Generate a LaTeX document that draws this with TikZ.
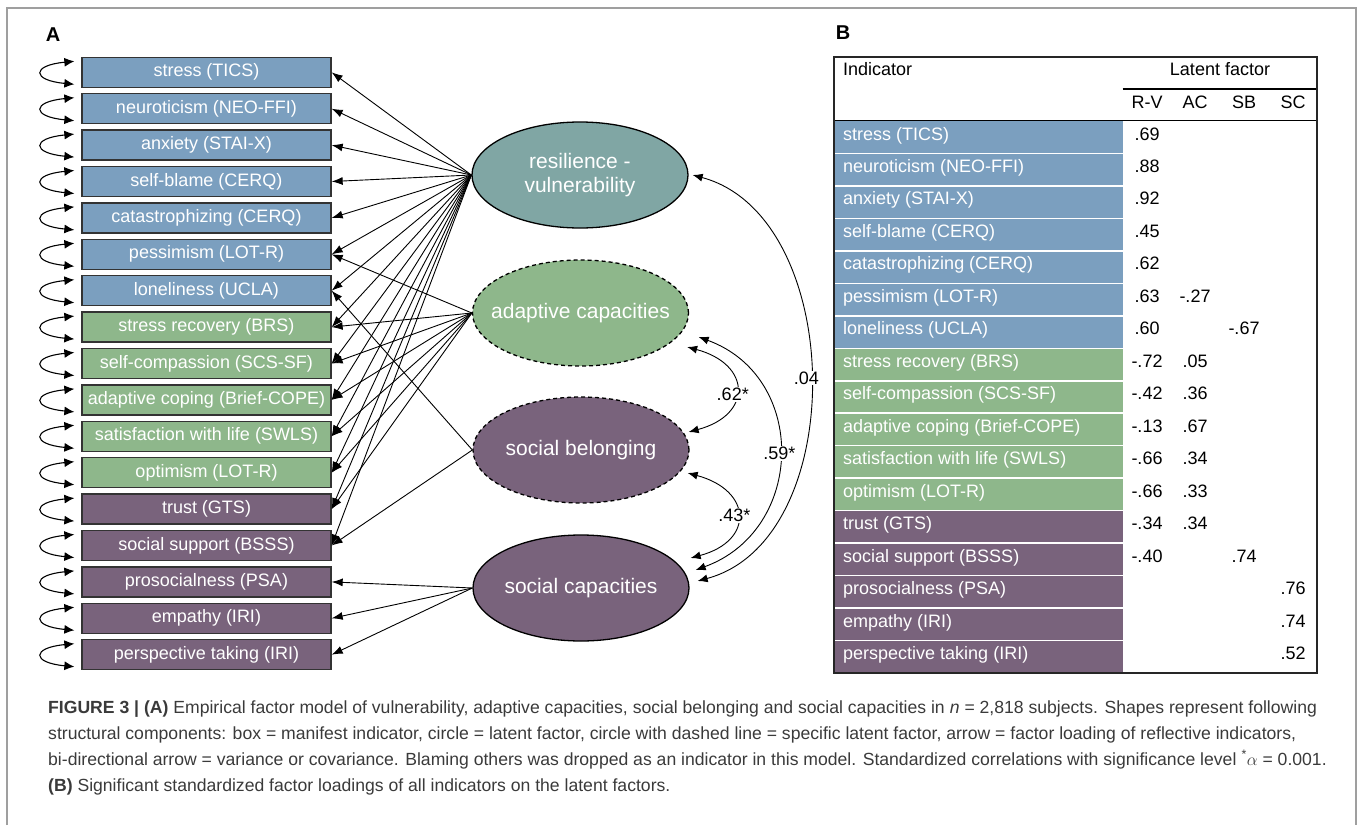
\documentclass[tikz,border=0pt]{standalone}
\usepackage{fontspec}
\setmainfont{Liberation Sans}
\usetikzlibrary{arrows.meta,shapes.geometric}

\definecolor{rvblue}{HTML}{7B9FBF}
\definecolor{acgreen}{HTML}{8EB78B}
\definecolor{scpurple}{HTML}{79637C}
\definecolor{rvteal}{HTML}{80A6A4}
\definecolor{capgray}{HTML}{3A3A3A}

\begin{document}
\begin{tikzpicture}[x=1pt,y=1pt,
  panel/.style={font=\bfseries\fontsize{20}{22}\selectfont, inner sep=0pt},
  indicator/.style={draw=black!80, line width=1.3pt, minimum width=249pt, minimum height=30pt, inner sep=0pt, text=white, font=\fontsize{18}{20}\selectfont},
  factor/.style={ellipse, draw=black, line width=1.3pt, minimum width=216pt, minimum height=106pt, inner sep=0pt, text=white, align=center, font=\fontsize{21}{24}\selectfont},
  specific/.style={factor, dash pattern=on 4pt off 3pt},
  loading/.style={-{Latex[length=11pt,width=8pt]}, line width=0.9pt},
  variance/.style={{Latex[length=10pt,width=9pt]}-{Latex[length=10pt,width=9pt]}, line width=1.1pt},
  covar/.style={{Latex[length=10pt,width=8pt]}-{Latex[length=10pt,width=8pt]}, line width=0.9pt},
  coef/.style={fill=white, inner sep=1pt, font=\fontsize{18}{20}\selectfont},
  rowlabel/.style={anchor=base west, inner sep=0pt, text=white, font=\fontsize{18}{20}\selectfont},
  cell/.style={anchor=base, inner sep=0pt, font=\fontsize{18}{20}\selectfont},
  caption/.style={anchor=base west, inner sep=0pt, text=capgray, font=\fontsize{17.6}{20}\selectfont}
]
\useasboundingbox (0,0) rectangle (1358,-825);
%frame
\draw[gray!75, line width=1.5pt] (7,-825) -- (7,-8) -- (1356,-8) -- (1356,-825);
\node[panel] (panelA) at (53,-34.5) {A};
\node[panel] (panelB) at (843,-33) {B};

%indicators
\node[indicator, fill=rvblue] (stress) at (206.5,-72.3) {stress (TICS)};
\node[indicator, fill=rvblue] (neuro) at (206.5,-108.7) {neuroticism (NEO-FFI)};
\node[indicator, fill=rvblue] (anxiety) at (206.5,-145.1) {anxiety (STAI-X)};
\node[indicator, fill=rvblue] (blame) at (206.5,-181.5) {self-blame (CERQ)};
\node[indicator, fill=rvblue] (catas) at (206.5,-217.9) {catastrophizing (CERQ)};
\node[indicator, fill=rvblue] (pessim) at (206.5,-254.3) {pessimism (LOT-R)};
\node[indicator, fill=rvblue] (lonely) at (206.5,-290.7) {loneliness (UCLA)};
\node[indicator, fill=acgreen] (recov) at (206.5,-327.1) {stress recovery (BRS)};
\node[indicator, fill=acgreen] (compass) at (206.5,-363.5) {self-compassion (SCS-SF)};
\node[indicator, fill=acgreen] (coping) at (206.5,-399.9) {adaptive coping (Brief-COPE)};
\node[indicator, fill=acgreen] (satis) at (206.5,-436.3) {satisfaction with life (SWLS)};
\node[indicator, fill=acgreen] (optim) at (206.5,-472.7) {optimism (LOT-R)};
\node[indicator, fill=scpurple] (trust) at (206.5,-509.1) {trust (GTS)};
\node[indicator, fill=scpurple] (support) at (206.5,-545.5) {social support (BSSS)};
\node[indicator, fill=scpurple] (prosoc) at (206.5,-581.9) {prosocialness (PSA)};
\node[indicator, fill=scpurple] (empathy) at (206.5,-618.3) {empathy (IRI)};
\node[indicator, fill=scpurple] (persp) at (206.5,-654.7) {perspective taking (IRI)};

%latent factors
\node[factor, fill=rvteal] (rv) at (580,-175) {\makebox[0pt]{resilience -}\\\makebox[0pt]{vulnerability}};
\node[specific, fill=acgreen] (ac) at (580.5,-313) {\makebox[0pt]{adaptive capacities}};
\node[specific, fill=scpurple] (sb) at (581,-450) {\makebox[0pt]{social belonging}};
\node[factor, fill=scpurple] (sc) at (581,-588) {\makebox[0pt]{social capacities}};

%variances
\foreach \b in {stress,neuro,anxiety,blame,catas,pessim,lonely,recov,compass,coping,satis,optim,trust,support,prosoc,empathy,persp}
  \draw[variance] ([shift={(-7,11)}]\b.west) .. controls +(-43,-4) and +(-43,4) .. ([shift={(-7,-12)}]\b.west);

%loadings
\foreach \b in {stress,neuro,anxiety,blame,catas,pessim,lonely,recov,compass,coping,satis,optim,trust,support}
  \draw[loading] (rv.west) -- (\b.east);
\foreach \b in {pessim,recov,compass,coping,satis,optim,trust}
  \draw[loading] (ac.west) -- (\b.east);
\foreach \b in {lonely,support}
  \draw[loading] (sb.west) -- (\b.east);
\foreach \b in {prosoc,empathy,persp}
  \draw[loading] (sc.west) -- (\b.east);

%covariances
\draw[covar] ([shift={(-2,-34)}]ac.east) to[out=-15,in=15,looseness=2] node[coef,pos=0.55,xshift=-3pt] (c62) {.62*} ([shift={(-1,18)}]sb.east);
\draw[covar] ([shift={(-2,-23)}]sb.east) to[out=-15,in=15,looseness=2] node[coef,pos=0.5,xshift=-3pt] (c43) {.43*} ([shift={(1,30)}]sc.east);
\draw[covar] ([shift={(9.5,-24)}]ac.east) to[out=-20,in=20,looseness=1.28] node[coef,pos=0.5] (c59) {.59*} ([shift={(6,18)}]sc.east);
\draw[covar] ([shift={(4,0)}]rv.east) to[out=-15,in=15,looseness=1] node[coef,pos=0.5,xshift=-4pt] (c04) {.04} ([shift={(8,7)}]sc.east);

%table
\foreach \i/\col/\lab/\rv/\ac/\sb/\sc in {
  0/rvblue/stress (TICS)/.69/{}/{}/{},
  1/rvblue/neuroticism (NEO-FFI)/.88/{}/{}/{},
  2/rvblue/anxiety (STAI-X)/.92/{}/{}/{},
  3/rvblue/self-blame (CERQ)/.45/{}/{}/{},
  4/rvblue/catastrophizing (CERQ)/.62/{}/{}/{},
  5/rvblue/pessimism (LOT-R)/.63/-.27/{}/{},
  6/rvblue/loneliness (UCLA)/.60/{}/-.67/{},
  7/acgreen/stress recovery (BRS)/-.72/.05/{}/{},
  8/acgreen/self-compassion (SCS-SF)/-.42/.36/{}/{},
  9/acgreen/adaptive coping (Brief-COPE)/-.13/.67/{}/{},
  10/acgreen/satisfaction with life (SWLS)/-.66/.34/{}/{},
  11/acgreen/optimism (LOT-R)/-.66/.33/{}/{},
  12/scpurple/trust (GTS)/-.34/.34/{}/{},
  13/scpurple/social support (BSSS)/-.40/{}/.74/{},
  14/scpurple/prosocialness (PSA)/{}/{}/{}/.76,
  15/scpurple/empathy (IRI)/{}/{}/{}/.74,
  16/scpurple/perspective taking (IRI)/{}/{}/{}/.52}{
  \fill[\col] (834,{-121-32.47*\i}) rectangle (1122.7,{-121-32.47*(\i+1)});
  \node[rowlabel] (lab\i) at (843,{-140-32.47*\i}) {\lab};
  \node[cell] (nrv\i) at (1147,{-140-32.47*\i}) {\rv};
  \node[cell] (nac\i) at (1195,{-140-32.47*\i}) {\ac};
  \node[cell] (nsb\i) at (1244,{-140-32.47*\i}) {\sb};
  \node[cell] (nsc\i) at (1293,{-140-32.47*\i}) {\sc};
}
\foreach \i in {1,...,16}
  \draw[white, line width=1.5pt] (834,{-121-32.47*\i}) -- (1122.7,{-121-32.47*\i});
\node[cell, anchor=base west] (indhead) at (843,-75.7) {Indicator};
\node[cell] (lathead) at (1220,-75.7) {Latent factor};
\node[cell] (hrv) at (1147,-108) {R-V};
\node[cell] (hac) at (1195,-108) {AC};
\node[cell] (hsb) at (1244,-108) {SB};
\node[cell] (hsc) at (1293,-108) {SC};
\draw[line width=1.2pt] (1122.7,-89) -- (1317,-89);
\draw[line width=1.5pt] (834,-120.7) -- (1317,-120.7);
\draw[line width=1.5pt, black!85] (834,-57) rectangle (1317,-673);

%caption
\node[caption] (cap1) at (48,-713) {\textbf{FIGURE 3 | (A)} Empirical factor model of vulnerability, adaptive capacities, social belonging and social capacities in \textit{n} = 2,818 subjects. Shapes represent following};
\node[caption] (cap2) at (48,-739) {structural components: box = manifest indicator, circle = latent factor, circle with dashed line = specific latent factor, arrow = factor loading of reflective indicators,};
\node[caption] (cap3) at (48,-765) {bi-directional arrow = variance or covariance. Blaming others was dropped as an indicator in this model. Standardized correlations with significance level \textsuperscript{*}$\alpha$ = 0.001.};
\node[caption] (cap4) at (48,-791) {\textbf{(B)} Significant standardized factor loadings of all indicators on the latent factors.};
\end{tikzpicture}
\end{document}
